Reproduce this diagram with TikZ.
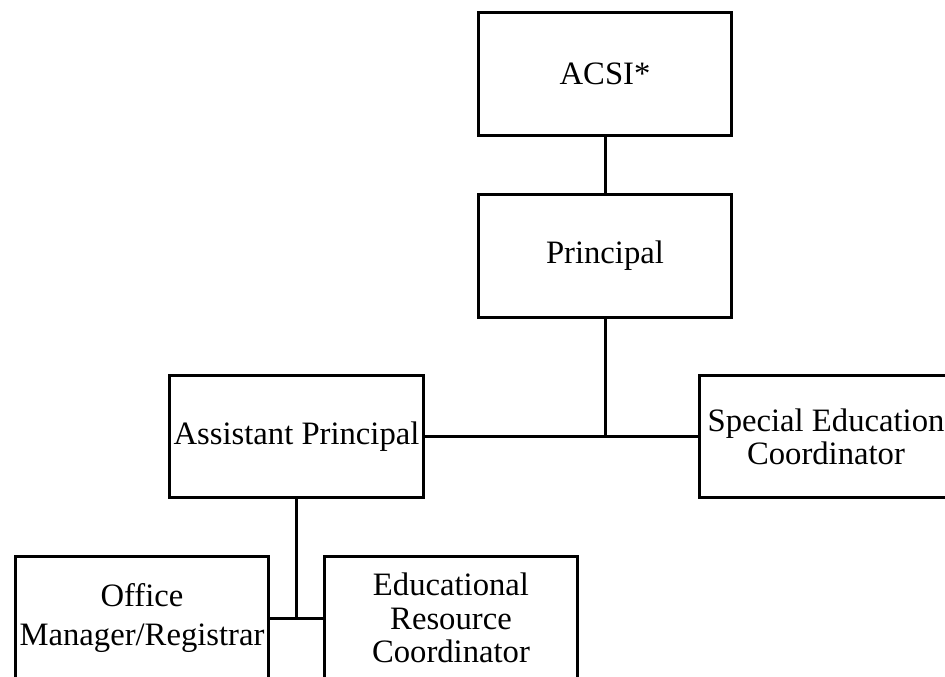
\documentclass[tikz,border=0pt]{standalone}
\usepackage{fontspec}
\setmainfont{Liberation Serif}

\tikzset{
    rolebox/.style={draw, rectangle, line width=2.25pt, minimum width=190pt,
        minimum height=92pt, inner sep=0pt, align=center,
        font=\fontsize{24.5}{25}\selectfont},
    link/.style={line width=2.25pt}
}

\begin{document}
\begin{tikzpicture}[x=0.75pt, y=-0.75pt]

    % Frame of the chart
    \useasboundingbox (0, 0) rectangle (945, 677);
    \clip (0, 0) rectangle (945, 677);

    %% Top of the chart

    % ACSI and Principal
    \node [rolebox] (acsi) at (605, 74) {ACSI*};
    \node [rolebox] (principal) at (605, 256) {Principal};

    % Second row
    \node [rolebox] (assistant) at (296.5, 436.5) {Assistant Principal};
    \node [rolebox] (specialed) at (826, 436.5) {Special Education\\Coordinator};

    % Third row
    \node [rolebox] (office) at (142, 618) {Office\\[4pt]Manager/Registrar};
    \node [rolebox] (resource) at (451, 618) {Educational\\Resource\\Coordinator};

    %% Connectors
    \draw [link] (acsi) -- (principal);
    \draw [link] (principal.south) -- (principal.south |- assistant.east);
    \draw [link] (assistant.east) -- (specialed.west);
    \draw [link] (assistant.south) -- (assistant.south |- office.east);
    \draw [link] (office.east) -- (resource.west);

\end{tikzpicture}
\end{document}
